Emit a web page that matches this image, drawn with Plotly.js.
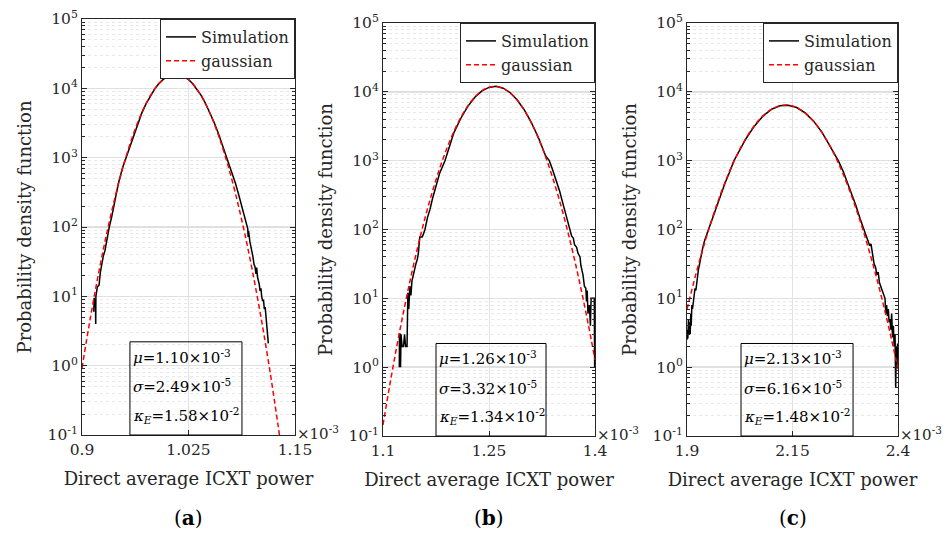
<!DOCTYPE html>
<html><head><meta charset="utf-8">
<script src="https://cdn.plot.ly/plotly-3.0.1.min.js"></script>
<style>html,body{margin:0;padding:0;background:#fff;}</style>
</head><body><div id="chart" style="width:945px;height:535px;"></div>
<script>
// ---------- DATA (x in units of 1e-3) ----------
// Panel (a)
var xa_gauss = [0.90,0.91,0.92,0.93,0.94,0.95,0.96,0.97,0.98,0.99,1.00,1.01,1.02,1.03,1.04,1.05,1.06,1.07,1.08,1.09,1.10,1.11,1.12,1.13,1.14];
var ya_gauss = [0.927,5.04,23.3,91.9,308,879,2134,4410,7754,11605,14777,16022,14777,11605,7754,4410,2134,879,308,91.9,23.3,5.04,0.927,0.141,0.019];
var xa_sim = [0.9138,0.9143,0.9150,0.9158,0.9161,0.9163,0.9180,0.9195,0.9200,0.9215,0.9231,0.9250,0.9270,0.9290,0.9320,0.9348,0.9387,0.9426,0.9478,0.9516,0.9543,0.9600,0.9650,0.9700,0.9750,0.9800,0.9850,0.9900,0.9950,1.0000,1.0050,1.0100,1.0150,1.0200,1.0250,1.0300,1.0350,1.0400,1.0450,1.0500,1.0550,1.0600,1.0650,1.0706,1.0750,1.0800,1.0840,1.0880,1.0910,1.0933,1.0945,1.0950,1.0955,1.0970,1.0990,1.1005,1.1019,1.1030,1.1042,1.1050,1.1060,1.1070,1.1080,1.1090,1.1100,1.1109,1.1120,1.1130,1.1140,1.1150,1.1160,1.1168,1.1178,1.1187];
var ya_sim = [6,9.5,7,9,4,10,13.7,14,14.5,22,30,38,46,64,100,139,240,420,730,1000,1270,1950,3050,4350,5900,7700,9650,11600,13350,14750,15700,16000,15700,14800,13400,11650,9750,7850,6050,4500,3250,2250,1480,1000,680,430,290,190,140,100,95,72,88,62,48,38,29,27,21,26,19,17,15,12,13,10,8.5,9,6.5,7,4.8,4.1,3.2,2.1];
// Panel (b)
var xb_gauss = [1.10,1.11,1.12,1.13,1.14,1.15,1.16,1.17,1.18,1.19,1.20,1.21,1.22,1.23,1.24,1.25,1.26,1.27,1.28,1.29,1.30,1.31,1.32,1.33,1.34,1.35,1.36,1.37,1.38,1.39,1.40];
var yb_gauss = [0.145,0.581,2.13,7.11,21.7,60.5,154,358,761,1475,2613,4225,6243,8422,10375,11670,11995,11257,9647,7553,5399,3525,2102,1144,569,258,107,40.6,14.0,4.44,1.28];
var xb_sim = [1.1231,1.1233,1.1245,1.1248,1.1255,1.1270,1.1290,1.1305,1.1320,1.1340,1.1352,1.1365,1.1380,1.1395,1.1410,1.1430,1.1450,1.1470,1.1486,1.1500,1.1520,1.1555,1.1570,1.1594,1.1630,1.1665,1.1700,1.1750,1.1800,1.1877,1.1950,1.2000,1.2100,1.2200,1.2300,1.2400,1.2500,1.2600,1.2700,1.2800,1.2900,1.3000,1.3100,1.3200,1.3300,1.3353,1.3400,1.3450,1.3500,1.3550,1.3600,1.3646,1.3670,1.3693,1.3710,1.3740,1.3760,1.3788,1.3800,1.3830,1.3850,1.3870,1.3880,1.3890,1.3900,1.3920,1.3935,1.3945,1.3990,1.3992,1.3995,1.4000];
var yb_sim = [1,3,3,1,3,2,2,3,2,2,12,7,15,11,18,22,28,33,37,45,78,78,85,100,150,196,280,420,650,1000,1700,2500,4100,6150,8350,10300,11600,12000,11300,9700,7600,5450,3570,2150,1180,1000,740,520,360,230,150,100,80,75,60,55,45,40,30,22,15,14,9,13,6,8,4,10,10,4,1,2];
// Panel (c)
var xc_gauss = [1.90,1.92,1.94,1.96,1.98,2.00,2.02,2.04,2.06,2.08,2.10,2.12,2.14,2.16,2.18,2.20,2.22,2.24,2.26,2.28,2.30,2.32,2.34,2.36,2.38,2.40];
var yc_gauss = [6.93,21.2,58.7,147,333,684,1269,2134,3245,4467,5565,6273,6397,5908,4935,3731,2554,1582,886,450,206,85.7,32.2,11.0,3.38,0.94];
var xc_sim = [1.9000,1.9010,1.9020,1.9035,1.9045,1.9060,1.9075,1.9090,1.9100,1.9115,1.9130,1.9150,1.9166,1.9190,1.9210,1.9240,1.9270,1.9300,1.9340,1.9380,1.9420,1.9481,1.9550,1.9600,1.9700,1.9800,1.9900,2.0000,2.0114,2.0200,2.0400,2.0600,2.0800,2.1000,2.1200,2.1400,2.1600,2.1800,2.2000,2.2200,2.2400,2.2585,2.2700,2.2800,2.2900,2.3000,2.3100,2.3195,2.3250,2.3300,2.3330,2.3360,2.3400,2.3432,2.3470,2.3500,2.3530,2.3560,2.3590,2.3620,2.3650,2.3692,2.3710,2.3730,2.3750,2.3770,2.3790,2.3810,2.3830,2.3850,2.3870,2.3890,2.3910,2.3930,2.3945,2.3960,2.3975,2.3990,2.4000];
var yc_sim = [2.5,3.5,2.6,5,3,4.5,3,6,4,8,7,9,10,14,13,20,26,32,45,57,70,90,115,140,215,320,470,660,1000,1250,2100,3200,4450,5550,6270,6400,5920,4950,3750,2580,1600,1000,700,490,330,225,145,100,80,70,58,62,40,32,28,22,24,17,15,13,12,10,6,8,5.5,7,4.5,5,3.5,6,2.7,4,2,3,0.5,2,1,2.2,1.5];

var xTickVals = [[0.9,1.025,1.15],[1.1,1.25,1.4],[1.9,2.15,2.4]];
var xTickText = [['0.9','1.025','1.15'],['1.1','1.25','1.4'],['1.9','2.15','2.4']];
var xRanges = [[0.9,1.15],[1.1,1.4],[1.9,2.4]];
var yTickVals = [0.1,1,10,100,1000,10000,100000];
var yTickText = ['10<sup>-1</sup>','10<sup>0</sup>','10<sup>1</sup>','10<sup>2</sup>','10<sup>3</sup>','10<sup>4</sup>','10<sup>5</sup>'];
var seriesNames = ['Simulation','gaussian'];
var panelLabels = ['a','b','c'];
var statMu = ['1.10','1.26','2.13'];
var statSigma = ['2.49','3.32','6.16'];
var statKappa = ['1.58','1.34','1.48'];
var xTitle = 'Direct average ICXT power';
var yTitle = 'Probability density function';

// ---------- LAYOUT ----------
var W = 945, H = 535;
var FONT = '"DejaVu Serif", serif';
var TXT = '#262626';
var px = function(a,b){return [a/W, b/W];};
var py = function(top,bot){return [1-bot/H, 1-top/H];};
var xDom = [px(82,295), px(383,595), px(687,898)];
var yDom = [py(19,435), py(23,436), py(23,436)];

var minorVals = [];
for (var e=-1;e<5;e++){for (var m=2;m<=9;m++){minorVals.push(m*Math.pow(10,e));}}

var sims = [[xa_sim,ya_sim],[xb_sim,yb_sim],[xc_sim,yc_sim]];
var gauss = [[xa_gauss,ya_gauss],[xb_gauss,yb_gauss],[xc_gauss,yc_gauss]];

var data = [];
var layout = {
  width: W, height: H, margin:{l:0,r:0,t:0,b:0}, autosize:false,
  paper_bgcolor:'#fff', plot_bgcolor:'#fff',
  font:{family:FONT, color:TXT, size:16},
  annotations: [], shapes: []
};

for (var i=0;i<3;i++){
  var sfx = i===0 ? '' : String(i+1);
  var xa = 'x'+sfx, ya = 'y'+sfx;
  var lg = 'legend'+sfx;
  data.push({x:sims[i][0], y:sims[i][1], xaxis:xa, yaxis:ya, type:'scatter', mode:'lines',
    name:seriesNames[0], legend:lg, line:{color:'#000000', width:1.5}});
  data.push({x:gauss[i][0], y:gauss[i][1], xaxis:xa, yaxis:ya, type:'scatter', mode:'lines',
    name:seriesNames[1], legend:lg, line:{color:'#ff0000', width:1.5, dash:'5px,3px', shape:'spline', smoothing:1}});

  layout['xaxis'+sfx] = {
    domain:xDom[i], anchor:ya, range:xRanges[i], tickmode:'array',
    tickvals:xTickVals[i], ticktext:xTickText[i],
    showline:true, linecolor:TXT, linewidth:1, mirror:'ticks',
    ticks:'inside', ticklen:5, tickcolor:TXT,
    showgrid:true, gridcolor:'#e2e2e2', gridwidth:1, zeroline:false,
    tickfont:{family:FONT, size:15.5, color:TXT},
    title:{text:xTitle, font:{family:FONT, size:18, color:TXT}, standoff:14}
  };
  layout['yaxis'+sfx] = {
    domain:yDom[i], anchor:xa, type:'log', range:[-1,5], tickmode:'array',
    tickvals:yTickVals, ticktext:yTickText,
    showline:true, linecolor:TXT, linewidth:1, mirror:'ticks',
    ticks:'inside', ticklen:5, tickcolor:TXT,
    showgrid:true, gridcolor:'#e0e0e0', gridwidth:1.5, zeroline:false,
    tickfont:{family:FONT, size:15.5, color:TXT},
    minor:{tickmode:'array', tickvals:minorVals, ticks:'inside', ticklen:3, tickcolor:TXT,
           showgrid:true, gridcolor:'#e8e8e8', griddash:'dot', gridwidth:1},
    title:{text:yTitle, font:{family:FONT, size:18, color:TXT}, standoff:11}
  };
  layout[lg] = {
    x:xDom[i][1], xanchor:'right', y:yDom[i][1], yanchor:'top',
    bgcolor:'#fff', bordercolor:TXT, borderwidth:1,
    font:{family:FONT, size:16, color:TXT}, itemwidth:30, tracegroupgap:0
  };
  // x10^-3 multiplier
  layout.annotations.push({xref:xa+' domain', yref:ya+' domain', x:1, y:0, xanchor:'left', yanchor:'middle',
    xshift:0, yshift:2, showarrow:false, text:'×10<sup>-3</sup>', font:{family:FONT, size:15, color:TXT}});
  // stats box
  var bx0 = [0.225,0.25,0.256][i], bx1 = [0.751,0.769,0.787][i];
  layout.shapes.push({type:'rect', xref:xa+' domain', yref:ya+' domain', x0:bx0, x1:bx1, y0:0, y1:0.224,
    line:{color:'#000', width:1}, fillcolor:'rgba(0,0,0,0)', layer:'above'});
  var lines = ['<i>μ</i>='+statMu[i]+'×10<sup>-3</sup>',
               '<i>σ</i>='+statSigma[i]+'×10<sup>-5</sup>',
               '<i>κ</i><sub><i>E</i></sub>='+statKappa[i]+'×10<sup>-2</sup>'];
  var ly = [0.188,0.117,0.048];
  for (var k=0;k<3;k++){
    layout.annotations.push({xref:xa+' domain', yref:ya+' domain', x:bx0, y:ly[k], xanchor:'left', yanchor:'middle',
      xshift:1, showarrow:false, text:lines[k], font:{family:FONT, size:15, color:'#000'}});
  }
  // panel label
  layout.annotations.push({xref:'paper', yref:'paper', x:(xDom[i][0]+xDom[i][1])/2, y:1-518/H,
    xanchor:'center', yanchor:'middle', showarrow:false,
    text:'(<b>'+panelLabels[i]+'</b>)', font:{family:FONT, size:20, color:'#000'}});
}

Plotly.newPlot('chart', data, layout, {displayModeBar:false, staticPlot:true});
</script></body></html>
